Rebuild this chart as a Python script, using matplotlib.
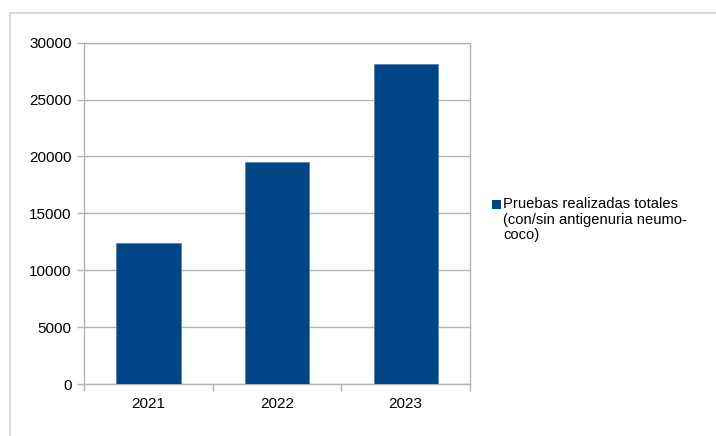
import matplotlib.pyplot as plt
from matplotlib.patches import Rectangle

years = ['2021', '2022', '2023']
pruebas = [12350, 19550, 28100]
yticks = [0, 5000, 10000, 15000, 20000, 25000, 30000]
legend_label = 'Pruebas realizadas totales\n(con/sin antigenuria neumo-\ncoco)'

plt.rcParams['font.family'] = ['Liberation Sans', 'DejaVu Sans']
fig = plt.figure(figsize=(7.16, 4.36), dpi=100)

# marco gris del grafico (solo se ven los bordes superior e izquierdo)
fig.patches.append(Rectangle((10/716, -0.2), 1.2, 0.2 + (436-13)/436, transform=fig.transFigure,
                             fill=False, edgecolor='#dadada', linewidth=1.5))

ax = fig.add_axes([84/716, (436-384)/436, (470-84)/716, (384-42.7)/436])
x = range(len(years))
ax.bar(x, pruebas, width=0.5, color='#004586', edgecolor='#5b80ad', linewidth=0.6, zorder=3)

ax.set_xlim(-0.5, 2.5)
ax.set_ylim(0, 30000)
ax.set_yticks(yticks)
ax.set_yticklabels([str(v) for v in yticks], fontsize=11)
ax.set_xticks(list(x))
ax.set_xticklabels(years, fontsize=11)
ax.set_xticks([-0.5, 0.5, 1.5, 2.5], minor=True)
ax.tick_params(axis='x', which='major', length=0, pad=9)
ax.tick_params(axis='x', which='minor', length=5, color='#b3b3b3', width=1)
ax.tick_params(axis='y', length=5, color='#b3b3b3', width=1, pad=4)
ax.grid(axis='y', color='#b3b3b3', linewidth=1, zorder=0)
for s in ax.spines.values():
    s.set_color('#b3b3b3')
    s.set_linewidth(1)

# leyenda
fig.patches.append(Rectangle((491.5/716, (436-209.5)/436), 9/716, 9/436, transform=fig.transFigure,
                             facecolor='#004586', edgecolor='none'))
fig.text(503/716, (436-197)/436, legend_label, fontsize=10.6, va='top', ha='left',
         linespacing=1.15)

fig.savefig('out.png', dpi=100)
